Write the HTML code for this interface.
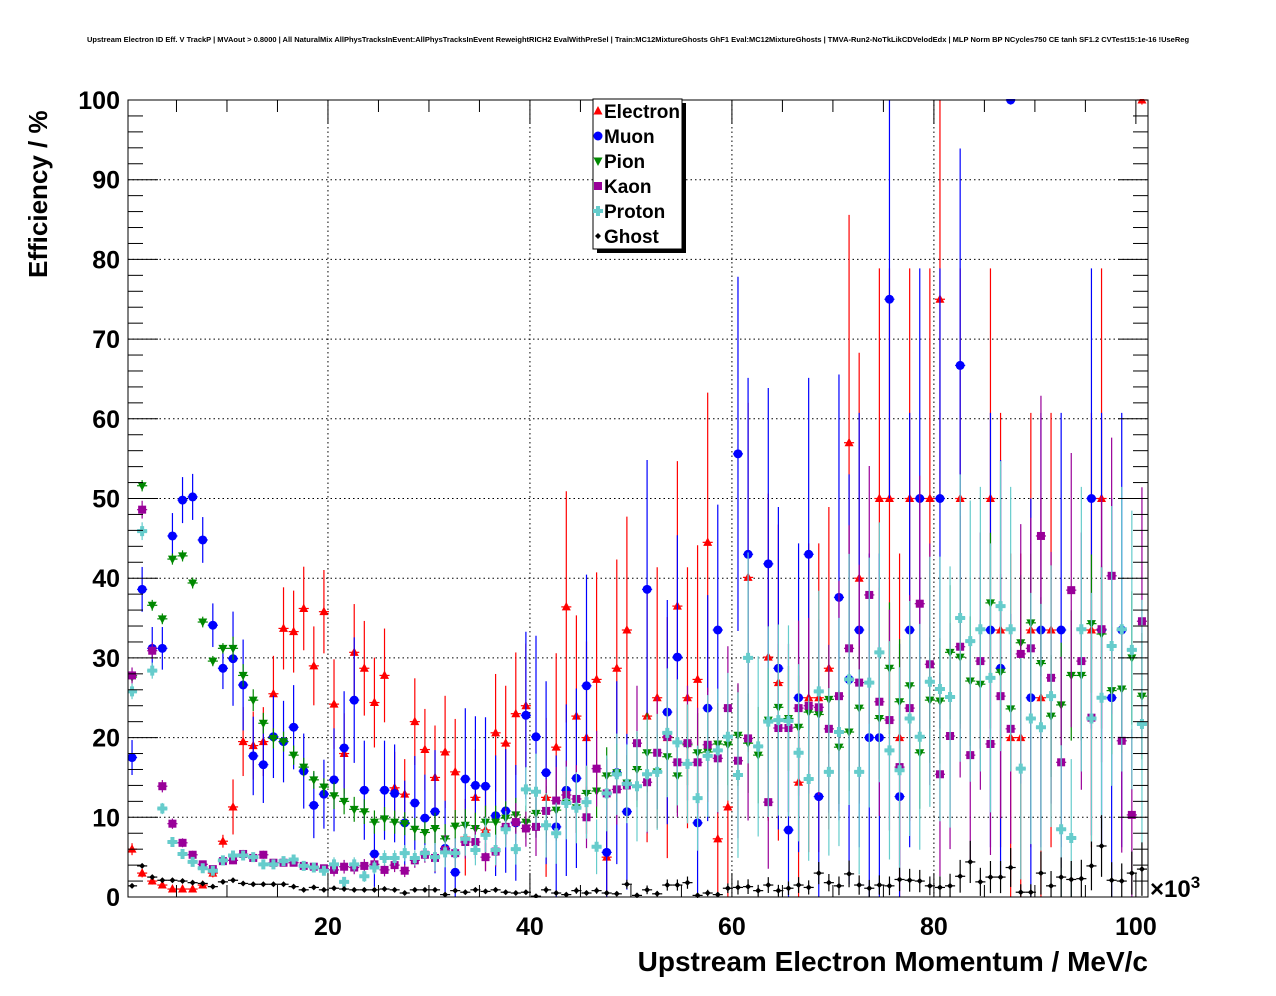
<!DOCTYPE html>
<html><head><meta charset="utf-8"><style>
html,body{margin:0;padding:0;background:#fff;}
svg{display:block;font-family:"Liberation Sans",sans-serif;}
</style></head><body>
<svg id="chart" width="1276" height="996" viewBox="0 0 1276 996" xmlns="http://www.w3.org/2000/svg">
<defs><clipPath id="pc"><rect x="128" y="99" width="1022" height="799"/></clipPath></defs>
<text x="638" y="42" text-anchor="middle" font-size="7.5" font-weight="bold">Upstream Electron ID Eff. V TrackP | MVAout &gt; 0.8000 | All NaturalMix AllPhysTracksInEvent:AllPhysTracksInEvent ReweightRICH2 EvalWithPreSel | Train:MC12MixtureGhosts GhF1 Eval:MC12MixtureGhosts | TMVA-Run2-NoTkLikCDVelodEdx | MLP Norm BP NCycles750 CE tanh SF1.2 CVTest15:1e-16 !UseReg</text>
<g id="grid"></g>
<g id="marks" clip-path="url(#pc)"></g>
<rect x="128" y="100" width="1020" height="797" fill="none" stroke="#000" stroke-width="1"/>
<g id="axes"></g>
<text transform="translate(47,278) rotate(-90)" font-size="26" font-weight="bold">Efficiency / %</text>
<text x="1148" y="971" text-anchor="end" font-size="28" font-weight="bold">Upstream Electron Momentum / MeV/c</text>
<text x="1150" y="897" font-size="24" font-weight="bold">×10<tspan font-size="17" dy="-9">3</tspan></text>
<g id="legend"></g>
</svg>
<script>
const xTicks=[20,40,60,80,100];
const yTicks=[0,10,20,30,40,50,60,70,80,90,100];
const seriesNames=["Electron","Muon","Pion","Kaon","Proton","Ghost"];
const seriesColors=["#ff0000","#0000ff","#008800","#990099","#66cccc","#000000"];
const _=null;
const electron=[6,3,2,1.5,1,1,1,1.5,3,7,11.3,19.5,19,19.5,25.5,33.7,33.3,36.2,29,35.8,24.2,18,30.7,28.7,24.4,27.8,13.7,12.9,22,18.5,15,18.2,15.7,7.5,12.5,8.4,20.6,19.3,23,24,_,12.5,18.8,36.4,22.7,20,27.3,5,28.7,33.5,_,22.7,25,20,36.5,25,27.3,44.5,7.3,11.3,_,40.1,_,30.1,26.9,_,14.4,25,25,28.7,_,57,40,_,50,50,20,50,_,50,75,_,50,_,_,50,33.5,20,20,33.5,25,33.5,_,_,_,33.5,50,_,_,_,100];
const muon=[17.5,38.6,31.2,31.2,45.3,49.8,50.2,44.8,34.1,28.7,29.9,26.6,17.7,16.6,20.1,19.5,21.3,15.8,11.5,12.9,14.7,18.7,24.7,13.4,5.4,13.4,13,9.3,11.8,9.9,10.7,6.1,3.1,14.8,14,13.9,10.2,10.8,9.3,22.8,20.1,15.6,8.8,13.4,14.9,26.5,_,5.6,15.6,10.7,_,38.6,_,23.2,30.1,_,9.3,23.7,33.5,_,55.6,43,_,41.8,28.7,8.4,25,43,12.6,_,37.6,27.3,33.5,20,20,75,12.6,33.5,50,_,50,_,66.7,_,_,33.5,28.7,100,_,25,33.5,_,33.5,_,_,50,33.5,25,33.5,_,_];
const pion=[27.6,51.6,36.6,34.9,42.4,42.8,39.4,34.5,29.6,31.2,31.2,27.8,24.7,21.8,19.9,19.5,17.8,16.3,14.7,13.8,12.7,12,11,10.7,9.4,9.8,9.4,9.2,8.5,8.1,8.6,7.3,8.9,9,8.6,9.4,9.4,9.9,10.3,9.4,10.5,10.8,10.9,11.8,11.2,13,13.3,15.2,15.6,14.3,16,18.1,15.7,17.6,15.2,19.1,18.1,18.2,19.2,19.1,20.3,19.3,17.8,22.2,23.8,22.4,21.3,23.2,22.9,24.8,18.8,20.7,23.7,_,22.4,28.7,24.5,26.5,18.1,24.7,24.6,30.7,30.1,27.1,26.7,36.9,28.2,23.6,31.9,34.4,29.3,22.7,24.1,27.8,27.8,34.3,33,25.9,26.1,30,25.2];
const kaon=[27.8,48.6,30.9,13.9,9.2,6.8,5.3,4.1,3.5,4.5,4.6,5.4,4.9,5.3,4.3,4.3,4.3,3.9,3.8,3.6,3.4,3.8,3.7,3.9,4.1,3.4,4,3.3,4.6,5.3,4.9,5.9,5.5,6.9,6.9,5,5.7,8.8,9.4,8.6,8.8,10.8,12.1,12.8,12.3,10,16.1,13,13.5,14,19.3,14.4,18.1,20.1,16.9,19.3,16.9,19.1,17.4,23.7,17.1,19.9,_,11.9,21.2,21.2,23.7,24,23.8,21.1,25.2,31.2,26.9,37.9,24.5,22.2,16.3,23.7,36.8,29.2,15.4,20.2,31.4,17.8,29.6,19.2,25.2,21.1,30.5,31.2,45.3,27.5,16.9,38.5,29.6,22.5,33.6,40.3,19.6,10.3,34.6];
const proton=[25.8,45.9,28.4,11.1,6.9,5.4,4.4,3.6,3.3,4.6,5.2,5.2,5,4.1,4.1,4.5,4.7,3.9,3.7,3.3,4.1,1.9,4.1,2.6,3.7,4.9,4.9,5.5,4.9,5.5,5,5.6,5.5,7.3,5.9,7.8,5.9,8.5,6,13.5,13.2,9,8,11.8,11.2,11.9,6.3,13,15.4,14.2,13.9,15.4,15.7,20.6,19.4,16.7,12.4,17.7,18.4,20.1,15.3,30,18.9,22,22.2,22.1,18.1,14.8,25.8,15.7,20.7,27.3,15.7,26.9,30.7,18.4,15.9,22.4,20.1,27,26.1,25.1,35,32.1,33.6,27.5,36.5,33.6,16.1,22.4,21.3,25.2,8.5,7.4,33.6,22.4,25,31.5,33.6,31,21.7];
const ghost=[1.4,3.9,2.5,2.1,2.1,2,1.8,1.7,1.3,1.9,2.1,1.7,1.6,1.6,1.6,1.6,1.3,0.9,1.2,0.9,1.1,1,0.9,0.9,0.9,1,0.9,0.5,0.9,0.9,0.9,0.3,0.8,0.6,0.9,0.7,0.9,0.6,0.5,0.6,0.1,0.9,0.5,0.3,0.8,0.5,0.8,0.5,0.4,1.6,0.2,0.9,0.4,1.5,1.5,1.8,0.2,0.5,0.3,1.1,1.2,1.3,0.8,1.5,0.8,1.1,1.5,1.2,3,1.8,1.4,2.9,1.5,1.1,1.5,1.4,2.2,2.1,2,1.4,1.2,1.4,2.6,4.4,1.9,2.5,2.5,3.7,0.6,0.6,3,1.4,2.5,2.2,2.3,3.9,6.4,2.1,2,3,3.5];
// effective statistics per 10-bin block (sets error bar size)
const electronStats=[1000,84,58,30,11,7,5,3,3,3,3];
const muonStats=[300,60,30,16,10,9,5,3,3,3,3];
const pionStats=[5000,1000,400,200,100,60,40,30,30,30,30];
const kaonStats=[2000,2000,500,150,60,30,15,9,8,8,8];
const protonStats=[2000,2000,500,150,50,25,12,8,7,7,7];
const ghostStats=[5000,5000,3000,1000,500,300,150,100,60,40,30];

const allSeries=[electron,muon,pion,kaon,proton,ghost];
const allStats=[electronStats,muonStats,pionStats,kaonStats,protonStats,ghostStats];
const NS="http://www.w3.org/2000/svg";
const L=128,R=1148,T=100,B=897,XMIN=0.2,XMAX=101.2,YMIN=0,YMAX=100,BW=1,X0=0.1;
function xs(v){return L+(v-XMIN)/(XMAX-XMIN)*(R-L);}
function ys(v){return B-(v-YMIN)/(YMAX-YMIN)*(B-T);}
function mk(tag,attrs,parent){const e=document.createElementNS(NS,tag);for(const k in attrs)e.setAttribute(k,attrs[k]);parent.appendChild(e);return e;}
const grid=document.getElementById('grid'),axes=document.getElementById('axes'),marks=document.getElementById('marks'),legend=document.getElementById('legend');
yTicks.forEach(t=>{if(t>0&&t<100){const g=mk('line',{x1:L,x2:R,y1:ys(t),y2:ys(t),stroke:'#000','stroke-dasharray':'1.5,3','stroke-width':1},grid);

}});
xTicks.forEach(t=>{if(t<100){const g=mk('line',{x1:xs(t),x2:xs(t),y1:T,y2:B,stroke:'#000','stroke-dasharray':'1.5,3','stroke-width':1},grid);

}});
for(let v=0;v<=100;v+=2){const maj=v%10===0;const len=maj?30:15;
mk('line',{x1:L,x2:L+len,y1:ys(v),y2:ys(v),stroke:'#000'},axes);
mk('line',{x1:R,x2:R-len,y1:ys(v),y2:ys(v),stroke:'#000'},axes);}
for(let v=5;v<=100;v+=5){const maj=v%20===0;const len=maj?24:12;
mk('line',{x1:xs(v),x2:xs(v),y1:B,y2:B-len,stroke:'#000'},axes);
mk('line',{x1:xs(v),x2:xs(v),y1:T,y2:T+len,stroke:'#000'},axes);}
yTicks.forEach(t=>{const e=mk('text',{x:L-8,y:ys(t)+9,'text-anchor':'end','font-size':25,'font-weight':'bold'},axes);e.textContent=t;

});
xTicks.forEach(t=>{const e=mk('text',{x:xs(t),y:935,'text-anchor':'middle','font-size':25,'font-weight':'bold'},axes);e.textContent=t;

});
function marker(s,cx,cy,c,p){
 if(s===0)mk('polygon',{points:`${cx},${cy-5} ${cx-4.5},${cy+3.5} ${cx+4.5},${cy+3.5}`,fill:c},p);
 else if(s===1)mk('circle',{cx:cx,cy:cy,r:4.5,fill:c},p);
 else if(s===2)mk('polygon',{points:`${cx},${cy+5} ${cx-4.5},${cy-3.5} ${cx+4.5},${cy-3.5}`,fill:c},p);
 else if(s===3)mk('rect',{x:cx-4,y:cy-4,width:8,height:8,fill:c},p);
 else if(s===4)mk('path',{d:`M${cx-5},${cy-2}h3v-3h4v3h3v4h-3v3h-4v-3h-3z`,fill:c},p);
 else mk('path',{d:`M${cx},${cy-3}L${cx+3},${cy}L${cx},${cy+3}L${cx-3},${cy}z`,fill:c},p);
}
allSeries.forEach((arr,s)=>{const c=seriesColors[s];
 const g=mk('g',{},marks);
 
 
 arr.forEach((v,i)=>{if(v===null)return;
  const xc=X0+(i+0.5)*BW,cx=xs(xc),cy=ys(v);
  const n=allStats[s][Math.floor(i/10)];
  const err=100*Math.sqrt(Math.max(v/100*(1-v/100),0.0001)/n);
  const up=Math.min(v+err,100),dn=Math.max(v-err,0);
  mk('line',{x1:cx,x2:cx,y1:ys(up),y2:ys(dn),stroke:c,'stroke-width':1.2},g);
  mk('line',{x1:xs(xc-BW/2),x2:xs(xc+BW/2),y1:cy,y2:cy,stroke:c,'stroke-width':1.2},g);
  marker(s,cx,cy,c,g);
 });});
mk('rect',{x:597,y:103,width:89,height:150,fill:'#000'},legend);
const lb=mk('rect',{x:593,y:99,width:89,height:150,fill:'#fff',stroke:'#000'},legend);


seriesNames.forEach((n,s)=>{const y=111+s*25;
 const g=mk('g',{},legend);
 
 
 marker(s,598,y,seriesColors[s],g);
 const t=mk('text',{x:604,y:y+7,'font-size':19,'font-weight':'bold'},g);t.textContent=n;});
</script>
</body></html>
